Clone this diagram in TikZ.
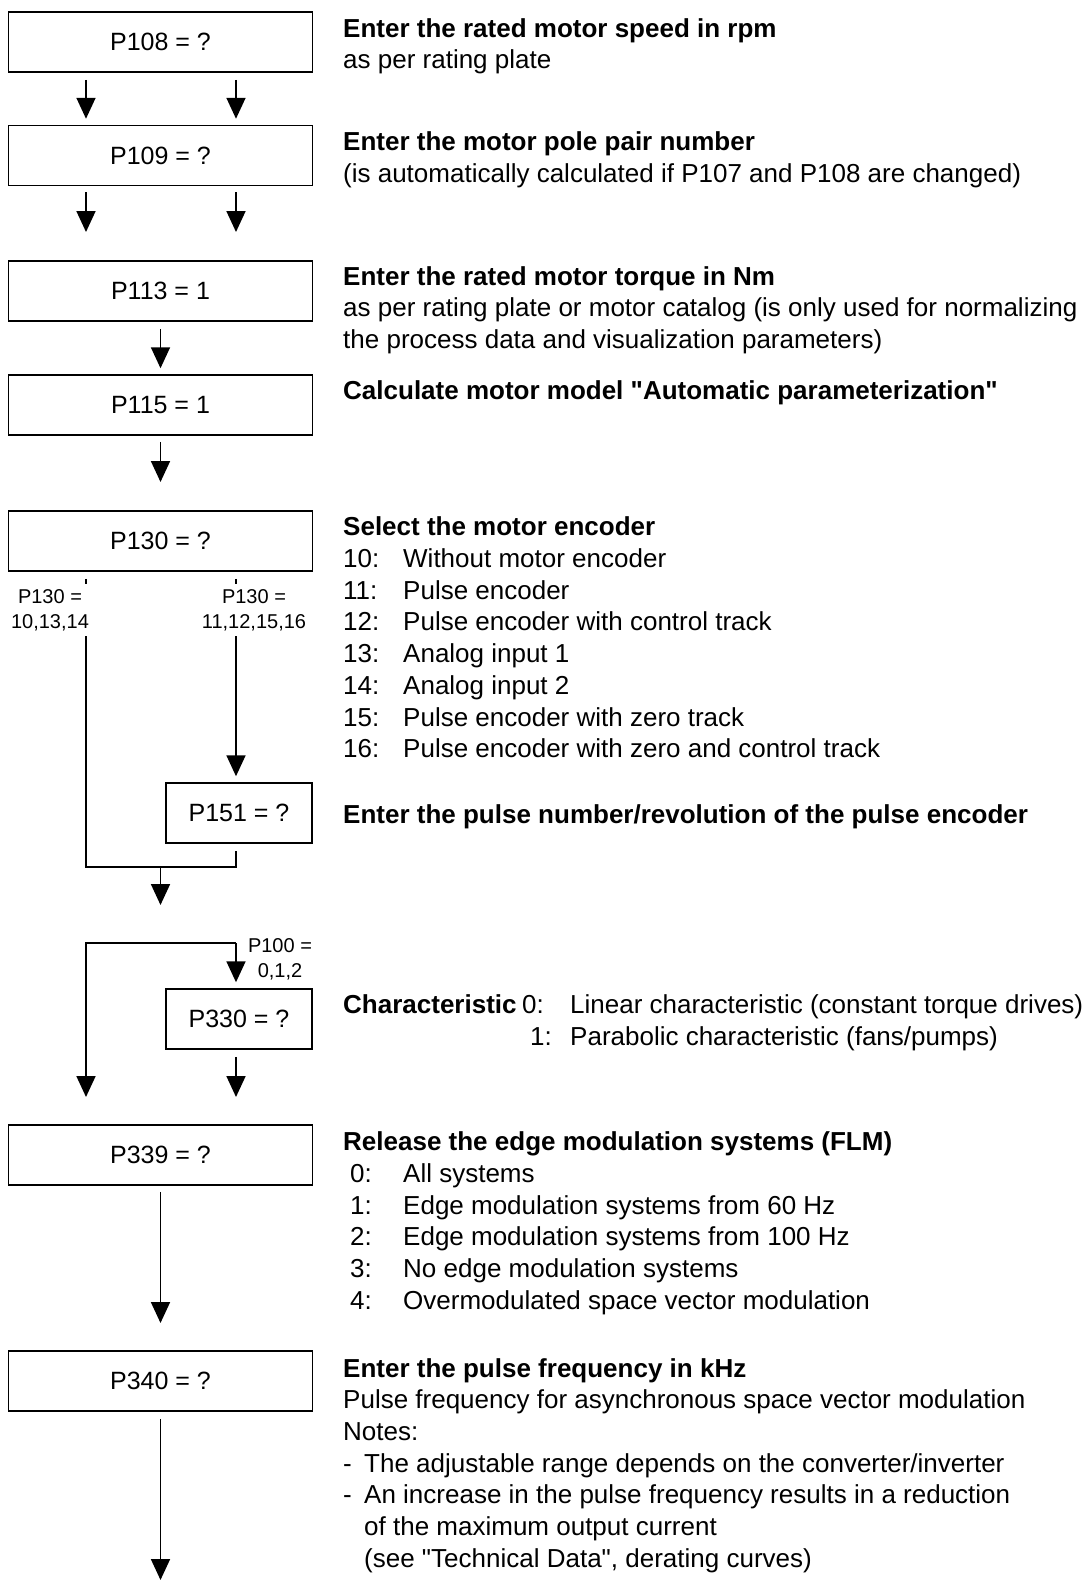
\documentclass[tikz,border=0pt]{standalone}
\usepackage{fontspec}
\setmainfont{Liberation Sans}
\usetikzlibrary{arrows.meta, calc}
\newcommand{\boxfont}{\fontsize{25}{30}\selectfont}
\newcommand{\descfont}{\fontsize{26}{31.7}\selectfont}
\newcommand{\condfont}{\fontsize{20}{25}\selectfont}
\tikzset{
  pbox/.style={
    rectangle, draw=black, line width=1.5pt,
    minimum width=304pt, minimum height=60pt,
    inner sep=0pt, font=\boxfont
  },
  pboxS/.style={pbox, minimum width=146pt},
  % anchored at the baseline of the last line
  descText/.style={anchor=base west, align=left, inner sep=0pt, font=\descfont},
  condLabel/.style={align=center, inner xsep=3pt, inner ysep=5pt, font=\condfont},
  flowLine/.style={line width=1.8pt},
  arr/.style={flowLine, -{Triangle[length=21pt, width=19pt]}},
  gap/.style={shorten <=7pt, shorten >=6pt},
}

\begin{document}
\begin{tikzpicture}[x=1pt, y=-1pt]
\useasboundingbox (0,0) rectangle (1087,1582);

% ---- Parameter boxes ------------------------------------------
\node[pbox] (b108) at (160.5,42) {P108 = ?};
\node[pbox] (b109) at (160.5,155.5) {P109 = ?};
\node[pbox] (b113) at (160.5,291) {P113 = 1};
\node[pbox] (b115) at (160.5,405) {P115 = 1};
\node[pbox] (b130) at (160.5,541) {P130 = ?};
\node[pboxS] (b151) at (239,813) {P151 = ?};
\node[pboxS] (b330) at (239,1019) {P330 = ?};
\node[pbox] (b339) at (160.5,1155) {P339 = ?};
\node[pbox] (b340) at (160.5,1381) {P340 = ?};

% ---- Descriptions ---------------------------------------------
\node[descText] (t108) at (343,68.7) {\textbf{Enter the rated motor speed in rpm}\\as per rating plate};
\node[descText] (t109) at (343,182.2) {\textbf{Enter the motor pole pair number}\\(is automatically calculated if P107 and P108 are changed)};
\node[descText] (t113) at (343,348.4) {\textbf{Enter the rated motor torque in Nm}\\as per rating plate or motor catalog (is only used for normalizing\\the process data and visualization parameters)};
\node[descText] (t115) at (343,399) {\textbf{Calculate motor model \textquotedbl Automatic parameterization\textquotedbl}};

\node[descText] (t130) at (343,535.5) {\textbf{Select the motor encoder}};
\node[descText] (n130) at (343,757.7) {10:\\11:\\12:\\13:\\14:\\15:\\16:};
\node[descText] (o130) at (403,757.7) {Without motor encoder\\Pulse encoder\\Pulse encoder with control track\\Analog input 1\\Analog input 2\\Pulse encoder with zero track\\Pulse encoder with zero and control track};
\node[descText] (t151) at (343,823) {\textbf{Enter the pulse number/revolution of the pulse encoder}};

\node[descText] (t330) at (343,1013.5) {\textbf{Characteristic}};
\node[descText] (c0) at (522,1013.5) {0:};
\node[descText] (c1) at (530,1045.2) {1:};
\node[descText] (o330) at (570,1045.2) {Linear characteristic (constant torque drives)\\Parabolic characteristic (fans/pumps)};

\node[descText] (t339) at (343,1150) {\textbf{Release the edge modulation systems (FLM)}};
\node[descText] (n339) at (350,1309.3) {0:\\1:\\2:\\3:\\4:};
\node[descText] (o339) at (403,1309.3) {All systems\\Edge modulation systems from 60 Hz\\Edge modulation systems from 100 Hz\\No edge modulation systems\\Overmodulated space vector modulation};

\node[descText] (t340) at (343,1440.4) {\textbf{Enter the pulse frequency in kHz}\\Pulse frequency for asynchronous space vector modulation\\Notes:};
\node[descText] (d340) at (343,1503.8) {-\\-};
\node[descText] (o340) at (364,1567.2) {The adjustable range depends on the converter/inverter\\An increase in the pulse frequency results in a reduction\\of the maximum output current\\(see \textquotedbl Technical Data\textquotedbl, derating curves)};

% ---- Helper coordinates ---------------------------------------
\coordinate (cL) at (86,0);
\coordinate (cR) at (236,0);
\coordinate (f109L) at (86,232);
\coordinate (f109R) at (236,232);
\coordinate (f115) at (160.5,482);
\coordinate (jL) at (86,867);
\coordinate (jR) at (236,867);
\coordinate (jM) at (160.5,867);
\coordinate (f151) at (160.5,905);
\coordinate (tL) at (86,943);
\coordinate (tR) at (236,943);
\coordinate (f100) at (86,1097);
\coordinate (f330) at (236,1097);
\coordinate (f339) at (160.5,1323);
\coordinate (f340) at (160.5,1580);

% ---- Arrows ----------------------------------------------------
\draw[arr, gap] (b108.south -| cL) -- (b109.north -| cL);
\draw[arr, gap] (b108.south -| cR) -- (b109.north -| cR);
\draw[arr, shorten <=6pt] (b109.south -| cL) -- (f109L);
\draw[arr, shorten <=6pt] (b109.south -| cR) -- (f109R);
\draw[arr, gap] (b113) -- (b115);
\draw[arr, shorten <=6pt] (b115) -- (f115);

\draw[flowLine, shorten <=7pt, shorten >=7pt] (b130.south -| cL) -- (jL) -- (jR) -- (b151.south -| cR);
\draw[arr, gap] (b130.south -| cR) -- (b151.north -| cR);
\draw[arr] (jM) -- (f151);

\draw[arr] (tR) -- (tL) -- (f100);
\draw[arr, shorten >=6pt] (tR) -- (b330.north -| tR);
\draw[arr, shorten <=7pt] (b330.south -| cR) -- (f330);

\draw[arr, shorten <=6pt] (b339) -- (f339);
\draw[arr, shorten <=7pt] (b340) -- (f340);

% ---- Branch conditions ----------------------------------------
\node[condLabel, fill=white] (l130L) at (50,610) {P130 =\\10,13,14};
\node[condLabel, fill=white] (l130R) at (254,610) {P130 =\\11,12,15,16};
\node[condLabel] (l100) at (280,959) {P100 =\\0,1,2};

\end{tikzpicture}
\end{document}
